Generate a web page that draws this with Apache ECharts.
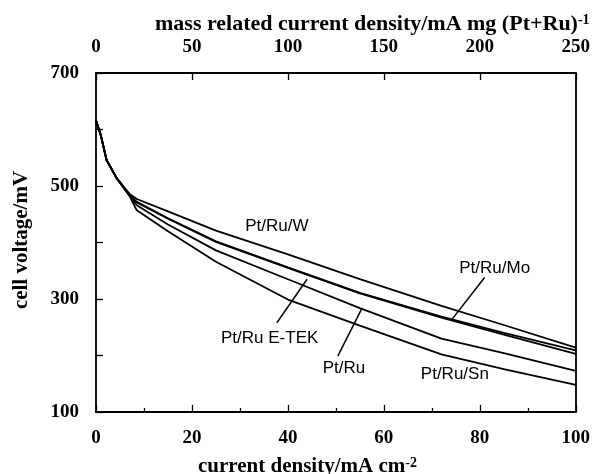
<!DOCTYPE html>
<html><head><meta charset="utf-8">
<script src="https://cdn.jsdelivr.net/npm/echarts@6/dist/echarts.min.js"></script>
<style>html,body{margin:0;padding:0;background:#fff}#c{width:593px;height:474px}</style>
</head><body><div id="c"></div>
<script>
// current density / mA cm^-2
const currentDensity = [0, 1, 2.2, 4.3, 7, 8.5, 15, 25, 40, 55, 72, 85, 100];
// cell voltage / mV
const ptRuW    = [616, 590, 546, 514, 486, 477, 455, 421, 379, 335, 288, 254, 214];
const ptRuMo   = [616, 590, 546, 514, 484, 472, 443, 402, 356, 311, 269, 240, 209];
const ptRuETEK = [616, 590, 546, 514, 484, 471, 442, 401, 355, 310, 267, 237, 203];
const ptRu     = [616, 590, 546, 514, 483, 466, 432, 386, 335, 284, 230, 204, 173];
const ptRuSn   = [616, 590, 546, 514, 482, 457, 420, 366, 299, 253, 202, 176, 148];

const seriesNames = ['Pt/Ru/W', 'Pt/Ru/Mo', 'Pt/Ru E-TEK', 'Pt/Ru', 'Pt/Ru/Sn'];
const seriesValues = [ptRuW, ptRuMo, ptRuETEK, ptRu, ptRuSn];
// label anchor (data coords)
const labelPos = [[37.7, 428], [83.1, 354], [36.2, 230], [51.7, 178], [74.8, 167]];
// leader lines (data coords), null when none
const leaders = [null, [[81.0, 338], [74.2, 264]], [[37.7, 258], [44.0, 335]], [[50.4, 199], [55.4, 283]], null];

const yTicks = {min: 100, max: 700, interval: 200};
const xBottom = {min: 0, max: 100, interval: 20};
const xTop = {min: 0, max: 250, interval: 50};

const serif = "'Liberation Serif', 'Times New Roman', serif";
const sans = "'Liberation Sans', Arial, sans-serif";
const labelFont = {fontFamily: serif, fontWeight: 'bold', fontSize: 19, color: '#000'};

const chart = echarts.init(document.getElementById('c'), null, {renderer: 'canvas'});

const series = seriesNames.map((name, i) => {
  const s = {
    name: name,
    type: 'line',
    xAxisIndex: 0,
    yAxisIndex: 0,
    data: currentDensity.map((x, j) => [x, seriesValues[i][j]]),
    symbol: 'none',
    smooth: false,
    lineStyle: {color: '#000', width: 1.8},
    z: 3,
    markPoint: {
      symbol: 'circle', symbolSize: 0,
      data: [{coord: labelPos[i], value: name}],
      label: {show: true, position: 'inside', formatter: name, fontFamily: sans, fontSize: 17, color: '#000'},
      silent: true
    }
  };
  if (leaders[i]) {
    s.markLine = {
      symbol: 'none', silent: true,
      lineStyle: {color: '#000', width: 1.5, type: 'solid'},
      label: {show: false},
      data: [[{coord: leaders[i][0]}, {coord: leaders[i][1]}]]
    };
  }
  return s;
});

chart.setOption({
  animation: false,
  backgroundColor: '#fff',
  grid: {left: 96, right: 17, top: 73, bottom: 62, containLabel: false},
  title: [
    {text: 'mass related current density/mA mg (Pt+Ru){sup|-1}', left: 150, top: 8,
     textStyle: {fontFamily: serif, fontWeight: 'bold', fontSize: 22, color: '#000',
       rich: {sup: {fontFamily: serif, fontWeight: 'bold', fontSize: 14, color: '#000', verticalAlign: 'top'}}}},
    {text: 'current density/mA cm{sup|-2}', left: 193, top: 451,
     textStyle: {fontFamily: serif, fontWeight: 'bold', fontSize: 21, color: '#000',
       rich: {sup: {fontFamily: serif, fontWeight: 'bold', fontSize: 14, color: '#000', verticalAlign: 'top'}}}}
  ],
  graphic: [{
    type: 'text', x: 22, y: 240, rotation: Math.PI / 2,
    style: {text: 'cell voltage/mV', fontFamily: serif, fontWeight: 'bold', fontSize: 21, fill: '#000',
            textAlign: 'center', textVerticalAlign: 'middle'}
  }],
  xAxis: [
    {type: 'value', position: 'bottom', min: xBottom.min, max: xBottom.max, interval: xBottom.interval,
     axisLine: {show: true, onZero: false, lineStyle: {color: '#000', width: 1.8}},
     axisTick: {show: true, inside: true, length: 7, lineStyle: {color: '#000', width: 1.3}},
     minorTick: {show: true, splitNumber: 2, length: 4, lineStyle: {color: '#000', width: 1.3}},
     axisLabel: Object.assign({margin: 17}, labelFont),
     splitLine: {show: false}},
    {type: 'value', position: 'top', min: xTop.min, max: xTop.max, interval: xTop.interval,
     axisLine: {show: true, onZero: false, lineStyle: {color: '#000', width: 1.8}},
     axisTick: {show: true, inside: true, length: 7, lineStyle: {color: '#000', width: 1.3}},
     axisLabel: Object.assign({margin: 16}, labelFont),
     splitLine: {show: false}},
  ],
  yAxis: [
    {type: 'value', position: 'left', min: yTicks.min, max: yTicks.max, interval: yTicks.interval,
     axisLine: {show: true, onZero: false, lineStyle: {color: '#000', width: 1.8}},
     axisTick: {show: true, inside: true, length: 7, lineStyle: {color: '#000', width: 1.3}},
     minorTick: {show: true, splitNumber: 2, length: 7, lineStyle: {color: '#000', width: 1.3}},
     axisLabel: Object.assign({margin: 17}, labelFont),
     splitLine: {show: false}},
    {type: 'value', position: 'right', min: yTicks.min, max: yTicks.max, interval: yTicks.interval,
     axisLine: {show: true, onZero: false, lineStyle: {color: '#000', width: 1.8}},
     axisTick: {show: false}, axisLabel: {show: false}, splitLine: {show: false}}
  ],
  series: series
});
</script>
</body></html>
